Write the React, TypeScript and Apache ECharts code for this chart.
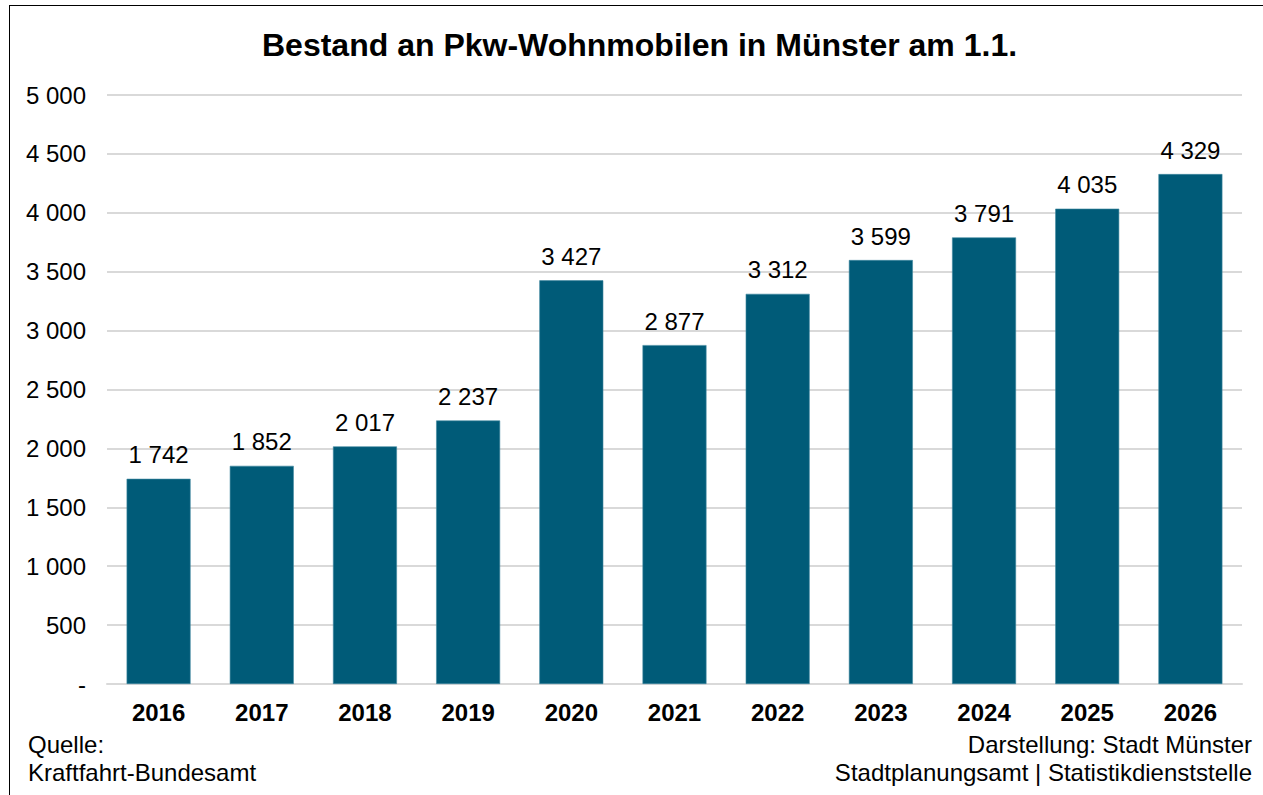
import React, { useEffect, useRef } from "react";
import * as echarts from "echarts";

const years = ["2016", "2017", "2018", "2019", "2020", "2021", "2022", "2023", "2024", "2025", "2026"];
const values = [1742, 1852, 2017, 2237, 3427, 2877, 3312, 3599, 3791, 4035, 4329];
const titleText = "Bestand an Pkw-Wohnmobilen in Münster am 1.1.";
const sourceLines = ["Quelle:", "Kraftfahrt-Bundesamt"];
const creditLines = ["Darstellung: Stadt Münster", "Stadtplanungsamt | Statistikdienststelle"];

const fmt = (v: number) => (v === 0 ? "-" : String(v).replace(/\B(?=(\d{3})+(?!\d))/g, " "));
const FONT = "Liberation Sans, Arial, sans-serif";

export default function App() {
  const ref = useRef<HTMLDivElement>(null);
  useEffect(() => {
    if (!ref.current) return;
    const chart = echarts.init(ref.current, undefined, { renderer: "svg" });
    chart.setOption({
      animation: false,
      textStyle: { fontFamily: FONT },
      title: {
        text: titleText,
        left: 262,
        top: 29,
        padding: 0,
        textStyle: { fontFamily: FONT, fontSize: 32, fontWeight: "bold", color: "#000" },
      },
      grid: { left: 107, right: 21, top: 95, bottom: 111, containLabel: false },
      xAxis: {
        type: "category",
        data: years,
        axisLine: { lineStyle: { color: "#d9d9d9", width: 2 } },
        axisTick: { show: false },
        axisLabel: { fontFamily: FONT, fontSize: 24, fontWeight: "bold", color: "#000", margin: 16 },
      },
      yAxis: {
        type: "value",
        min: 0,
        max: 5000,
        interval: 500,
        axisLine: { show: false },
        axisTick: { show: false },
        splitLine: { lineStyle: { color: "#d9d9d9", width: 2 } },
        axisLabel: { fontFamily: FONT, fontSize: 24, color: "#000", margin: 21, formatter: (v: number) => fmt(v) },
      },
      series: [
        {
          type: "bar",
          data: values,
          barWidth: "62%",
          itemStyle: { color: "#005b78", borderColor: "#3f88a0", borderWidth: 0.6 },
          label: {
            show: true,
            position: "top",
            distance: 12,
            fontFamily: FONT,
            fontSize: 24,
            color: "#000",
            formatter: (p: any) => fmt(p.value),
          },
        },
      ],
      graphic: [
        ...sourceLines.map((t, i) => ({
          type: "text",
          left: 28,
          top: 732 + i * 28,
          style: { text: t, fontFamily: FONT, fontSize: 24, fill: "#000" },
        })),
        ...creditLines.map((t, i) => ({
          type: "text",
          right: 11,
          top: 732 + i * 28,
          style: { text: t, fontFamily: FONT, fontSize: 24, fill: "#000" },
        })),
      ],
    });
    return () => chart.dispose();
  }, []);
  return (
    <div style={{ position: "fixed", left: 0, top: 0, width: 1263, height: 795, overflow: "hidden", background: "#fff" }}>
      <div style={{ position: "absolute", left: 9, top: 5, width: 1300, height: 850, border: "1px solid #000" }} />
      <div ref={ref} style={{ position: "absolute", left: 0, top: 0, width: 1263, height: 795 }} />
    </div>
  );
}
